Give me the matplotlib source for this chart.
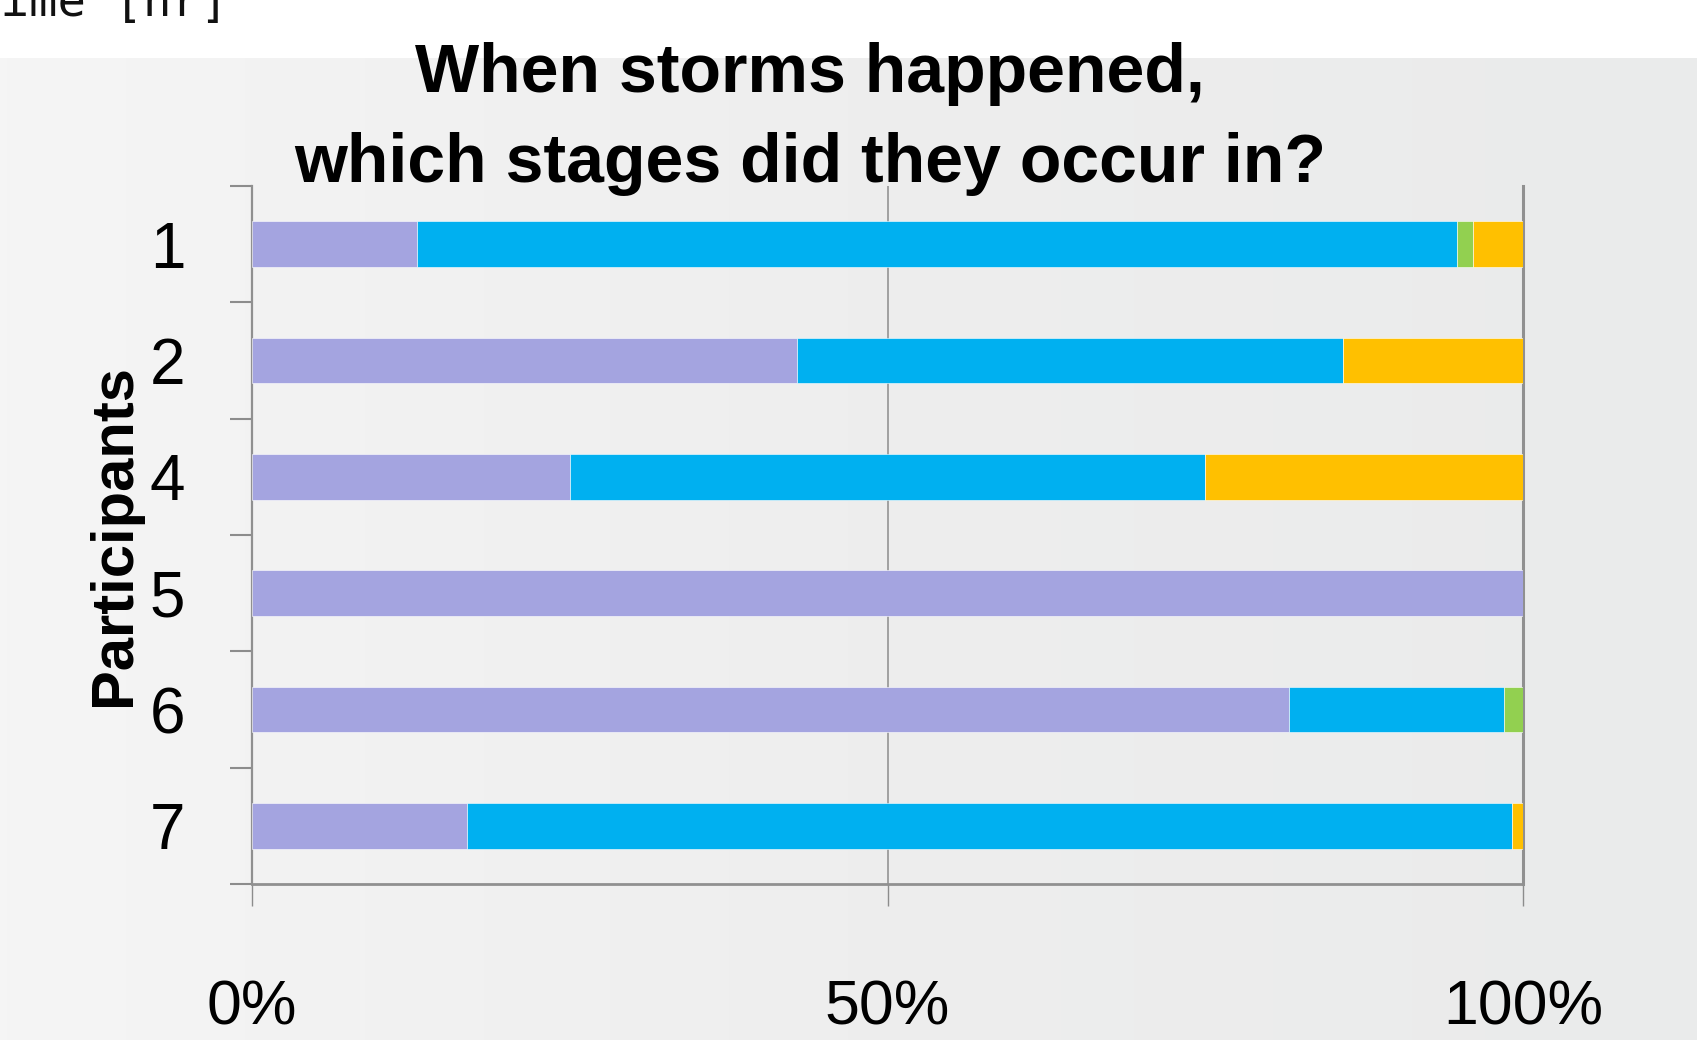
import matplotlib
matplotlib.use('Agg')
import matplotlib.pyplot as plt
import numpy as np
from matplotlib.colors import LinearSegmentedColormap

plt.rcParams['font.family'] = ['Liberation Sans', 'DejaVu Sans']

# Datos: porcentaje de tormentas en cada etapa, por participante
participants = ['1', '2', '4', '5', '6', '7']
stage_1 = [13.0, 42.9, 25.0, 100.0, 81.6, 16.9]
stage_2 = [81.8, 42.9, 50.0, 0.0, 16.9, 82.2]
stage_3 = [1.3, 0.0, 0.0, 0.0, 1.5, 0.0]
stage_4 = [3.9, 14.2, 25.0, 0.0, 0.0, 0.9]
stages = [stage_1, stage_2, stage_3, stage_4]
colors = ['#a4a4e0', '#00b0f0', '#92d050', '#ffc000']
x_ticks = [0, 50, 100]
x_labels = ['0%', '50%', '100%']

W, H = 1697, 1040
fig = plt.figure(figsize=(W / 100, H / 100), dpi=100)
fig.patch.set_facecolor('white')

# Fondo con degradado (debajo de la franja blanca superior)
bg = fig.add_axes([0, 0, 1, 1 - 58 / H], zorder=-5)
cmap = LinearSegmentedColormap.from_list('bg', ['#f5f5f5', '#eeeeee', '#eaebeb'])
bg.imshow(np.linspace(0, 1, 256)[None, :], aspect='auto', cmap=cmap,
          extent=[0, 1, 0, 1])
bg.axis('off')

# Texto recortado de la figura anterior
fig.text(-28 / W, 1 - 16 / H, 'Time [hr]', family='DejaVu Sans Mono',
         fontsize=34, va='baseline', ha='left', color='#111111')

ax = fig.add_axes([252 / W, 1 - 884 / H, (1523 - 252) / W, (884 - 186) / H])
ax.patch.set_alpha(0)

y = np.arange(len(participants))
left = np.zeros(len(participants))
for vals, c in zip(stages, colors):
    ax.barh(y, vals, left=left, height=0.39, color=c, edgecolor='white',
            linewidth=0.4, zorder=3)
    left += np.array(vals)

ax.set_xlim(0, 100)
ax.set_ylim(len(participants) - 0.5, -0.5)

ax.set_xticks(x_ticks)
ax.set_xticklabels(x_labels)
ax.tick_params(axis='x', direction='out', length=16, width=1, color='#8c8c8c',
               labelsize=45, pad=52)
ax.grid(axis='x', color='#8c8c8c', linewidth=1.1, zorder=1)

ax.set_yticks(y)
ax.set_yticklabels(participants)
ax.set_yticks(np.arange(len(participants) + 1) - 0.5, minor=True)
ax.tick_params(axis='y', which='major', length=0, labelsize=46, pad=48)
ax.tick_params(axis='y', which='minor', direction='out', length=16, width=1.5,
               color='#8c8c8c')

ax.spines['top'].set_visible(False)
for s in ['left', 'bottom', 'right']:
    ax.spines[s].set_color('#909090')
ax.spines['left'].set_linewidth(1.6)
ax.spines['bottom'].set_linewidth(2)
ax.spines['right'].set_linewidth(2.2)

# Título en dos líneas
fig.text(810 / W, 1 - 92 / H, 'When storms happened,', ha='center',
         va='baseline', fontsize=49, fontweight='bold')
fig.text(810 / W, 1 - 182 / H, 'which stages did they occur in?', ha='center',
         va='baseline', fontsize=49, fontweight='bold')

fig.text(115 / W, 1 - 535 / H, 'Participants', rotation=90, ha='center',
         va='center', fontsize=43, fontweight='bold')

fig.savefig('out.png', dpi=100)
